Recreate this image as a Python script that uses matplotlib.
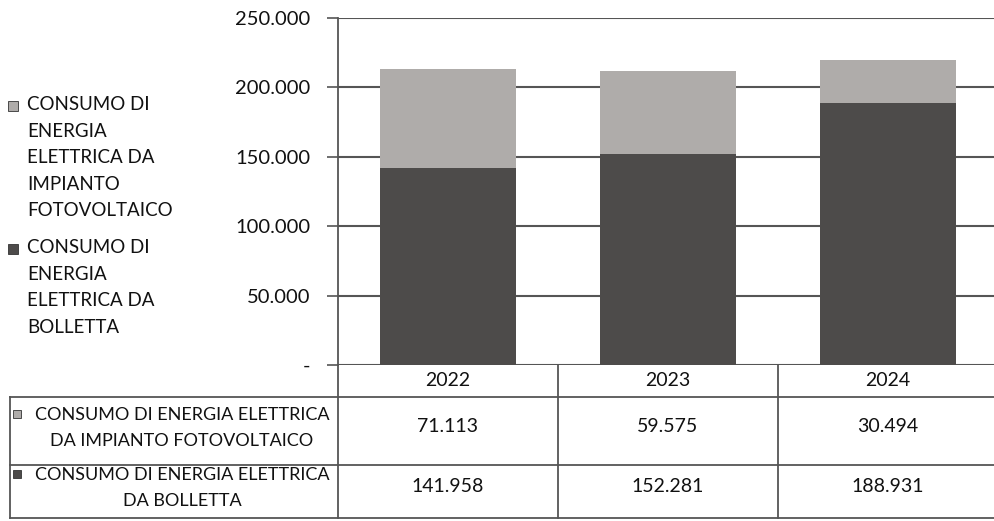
import numpy as np
import matplotlib.pyplot as plt
import matplotlib.transforms as mtransforms

# Data
YEARS = ["2022", "2023", "2024"]
FOTOVOLTAICO = [71113, 59575, 30494]
BOLLETTA = [141958, 152281, 188931]
SERIES_TABLE = ["CONSUMO DI ENERGIA ELETTRICA\nDA IMPIANTO FOTOVOLTAICO",
                "CONSUMO DI ENERGIA ELETTRICA\nDA BOLLETTA"]
SERIES_LEGEND = ["CONSUMO DI\nENERGIA\nELETTRICA DA\nIMPIANTO\nFOTOVOLTAICO",
                 "CONSUMO DI\nENERGIA\nELETTRICA DA\nBOLLETTA"]
Y_TICKS = [0, 50000, 100000, 150000, 200000, 250000]
Y_TICK_LABELS = ["-", "50.000", "100.000", "150.000", "200.000", "250.000"]

LIGHT = "#afacaa"
DARK = "#4d4b4a"
LINE = "#555555"
TEXT = "#111111"

plt.rcParams['font.family'] = ['Lato', 'DejaVu Sans']

W, H = 994, 521
fig = plt.figure(figsize=(W / 100, H / 100), dpi=100)

# overlay in pixel coordinates for the table and legend
pix = fig.add_axes([0, 0, 1, 1])
pix.set_xlim(0, W)
pix.set_ylim(H, 0)
pix.axis('off')

# chart area: left 338 px, 0 at y=365, 250k at y=18
ax = fig.add_axes([338 / W, (H - 365) / H, (W - 338) / W, (365 - 18) / H])
ax.set_zorder(2)
ax.patch.set_alpha(0)

x = np.arange(len(YEARS))
ax.bar(x, BOLLETTA, width=0.62, color=DARK, zorder=3)
ax.bar(x, FOTOVOLTAICO, width=0.62, bottom=BOLLETTA, color=LIGHT, zorder=3)

ax.set_xlim(-0.5, -0.5 + (W - 338) / 220)
ax.set_ylim(0, 250000)
ax.set_yticks(Y_TICKS)
ax.set_yticklabels(Y_TICK_LABELS, fontsize=14.5, color=TEXT)
ax.set_xticks([])
ax.grid(axis='y', color=LINE, linewidth=1.5, zorder=1)
ax.tick_params(axis='y', length=8, width=1.2, color=LINE, pad=12)
for s in ['top', 'right', 'bottom']:
    ax.spines[s].set_visible(False)
ax.spines['left'].set_color(LINE)
ax.spines['left'].set_linewidth(1.3)

# table below the chart, columns follow the bar axis
tr = mtransforms.blended_transform_factory(ax.transData, pix.transData)
for b in np.arange(-0.5, len(YEARS), 1.0):
    pix.plot([b, b], [365, 518], transform=tr, color=LINE, lw=1.3, clip_on=False)
for yy in [397, 465, 518]:
    pix.plot([10, W], [yy, yy], color=LINE, lw=1.3)
pix.plot([10, 10], [397, 518], color=LINE, lw=1.3)

for i, yr in enumerate(YEARS):
    pix.text(i, 381, yr, transform=tr, ha='center', va='center', fontsize=14, color=TEXT)
    pix.text(i, 427, f"{FOTOVOLTAICO[i]:,}".replace(",", "."), transform=tr,
             ha='center', va='center', fontsize=14, color=TEXT)
    pix.text(i, 487, f"{BOLLETTA[i]:,}".replace(",", "."), transform=tr,
             ha='center', va='center', fontsize=14, color=TEXT)

for label, yc, col in zip(SERIES_TABLE, [428, 488], [LIGHT, DARK]):
    pix.text(182, yc, label, ha='center', va='center', fontsize=13,
             color=TEXT, linespacing=1.7)
    pix.add_patch(plt.Rectangle((13, yc - 18), 8, 8, color=col, ec="#333333", lw=0.6))

# legend on the left
for label, ytop, col in zip(SERIES_LEGEND, [96, 239], [LIGHT, DARK]):
    pix.text(27, ytop, label, ha='left', va='top', fontsize=13.5,
             color=TEXT, linespacing=1.68)
    pix.add_patch(plt.Rectangle((8, ytop + 5), 10, 10, color=col, ec="#333333", lw=0.6))

fig.savefig("out.png", dpi=100)
